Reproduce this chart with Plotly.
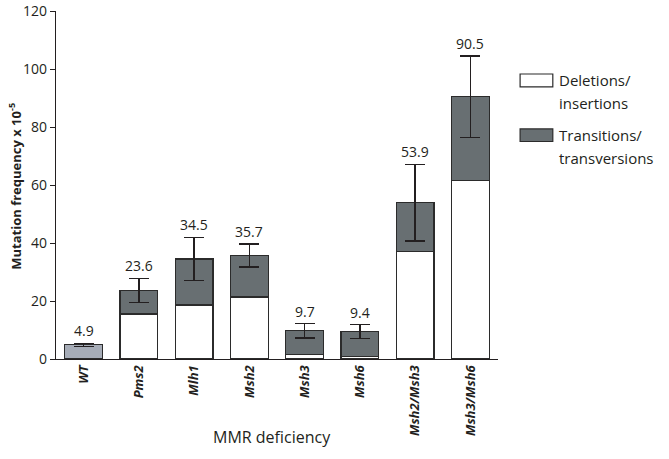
import plotly.graph_objects as go

categories = ["WT", "Pms2", "Mlh1", "Msh2", "Msh3", "Msh6", "Msh2/Msh3", "Msh3/Msh6"]
totals = [4.9, 23.6, 34.5, 35.7, 9.7, 9.4, 53.9, 90.5]
deletions = [None, 15.5, 18.6, 21.4, 1.6, 1.0, 37.2, 61.6]
errors = [0.5, 4.2, 7.5, 4.0, 2.5, 2.4, 13.2, 14.0]
y_ticks = [0, 20, 40, 60, 80, 100, 120]

transitions = [None if d is None else round(t - d, 2) for t, d in zip(totals, deletions)]
wt_vals = [t if d is None else None for t, d in zip(totals, deletions)]
wt_err = [e if d is None else 0 for e, d in zip(errors, deletions)]
tr_err = [0 if d is None else e for e, d in zip(errors, deletions)]

FONT = "Open Sans"
INK = "#231f20"
GRAY = "#686f72"
WTC = "#a6acb7"
EDGE = "#2b2b2b"

fig = go.Figure()
fig.add_trace(go.Bar(x=categories, y=wt_vals, width=0.68,
                     marker=dict(color=WTC, line=dict(color=EDGE, width=1.2)),
                     error_y=dict(type="data", array=wt_err, color=INK, thickness=1.2, width=10),
                     showlegend=False))
fig.add_trace(go.Bar(x=categories, y=deletions, width=0.68,
                     marker=dict(color="white", line=dict(color=EDGE, width=1.2)),
                     showlegend=False))
fig.add_trace(go.Bar(x=categories, y=transitions, width=0.68,
                     marker=dict(color=GRAY, line=dict(color=EDGE, width=1.2)),
                     error_y=dict(type="data", array=tr_err, color=INK, thickness=1.3, width=10),
                     showlegend=False))

for c, t, e in zip(categories, totals, errors):
    fig.add_annotation(x=c, y=t + e, text=f"{t}", showarrow=False, yanchor="bottom",
                       yshift=1, font=dict(family=FONT, size=14, color=INK))

# legend (drawn manually to get wide swatches)
fig.add_shape(type="rect", xref="paper", yref="paper", x0=1.05, x1=1.124, y0=0.782, y1=0.819,
              fillcolor="white", line=dict(color=EDGE, width=1.2))
fig.add_shape(type="rect", xref="paper", yref="paper", x0=1.05, x1=1.124, y0=0.625, y1=0.661,
              fillcolor=GRAY, line=dict(color=EDGE, width=1.2))
legend_lines = [("Deletions/", 0.802), ("insertions", 0.736),
                ("Transitions/", 0.644), ("transversions", 0.578)]
for txt, yy in legend_lines:
    fig.add_annotation(xref="paper", yref="paper", x=1.133, y=yy, text=txt,
                       showarrow=False, xanchor="left", yanchor="middle", align="left",
                       font=dict(family=FONT, size=15, color=INK))
# axis titles
fig.add_annotation(xref="paper", yref="paper", x=0.489, y=0, yshift=-78, text="MMR deficiency",
                   showarrow=False, xanchor="center", yanchor="middle",
                   font=dict(family=FONT, size=16, color=INK))
fig.add_annotation(xref="paper", yref="paper", x=0, y=0.495, xshift=-41, textangle=-90,
                   text="<b>Mutation frequency x 10<sup>-5</sup></b>",
                   showarrow=False, xanchor="center", yanchor="middle",
                   font=dict(family=FONT, size=13, color=INK))

fig.update_layout(
    width=669, height=459,
    margin=dict(l=56, r=171, t=11, b=100),
    barmode="stack", bargap=0.32,
    plot_bgcolor="white", paper_bgcolor="white",
    font=dict(family=FONT, color=INK),
    xaxis=dict(
        range=[-0.5, 7.5], showline=True, linecolor=INK, linewidth=1.3, automargin=False,
        ticks="", showgrid=False, tickangle=-90,
        tickvals=categories, ticktext=[f"<b><i>{c}</i></b>" for c in categories],
        tickfont=dict(family=FONT, size=13, color=INK),
    ),
    yaxis=dict(
        range=[0, 120.02], tickvals=y_ticks, showline=True, linecolor=INK, linewidth=1.3,
        automargin=False, ticklabeloverflow="allow",
        ticks="outside", ticklen=5, tickcolor=INK, tickwidth=1.3, showgrid=False, zeroline=False,
        tickfont=dict(family=FONT, size=14, color=INK),
    ),
)

fig.write_html("out.html", config={"displayModeBar": False},
               post_script="document.body.style.margin='0';document.body.style.overflow='hidden';")
